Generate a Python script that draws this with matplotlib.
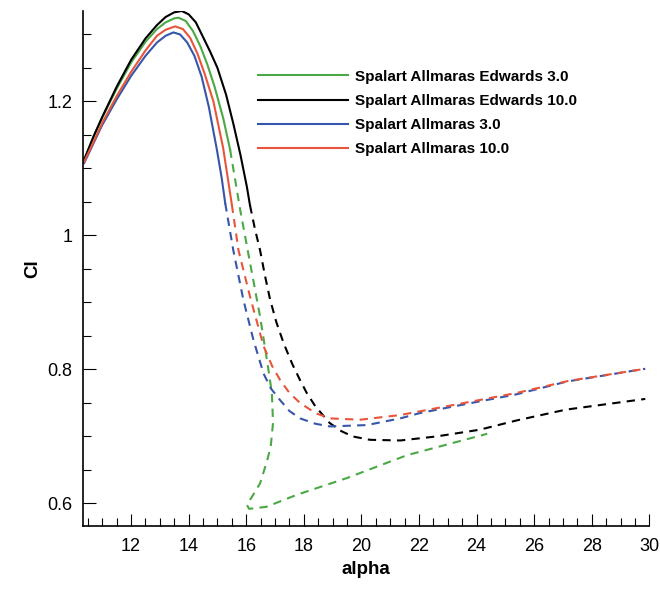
import matplotlib
matplotlib.use("Agg")
import matplotlib.pyplot as plt
from matplotlib.ticker import MultipleLocator, FormatStrFormatter

plt.rcParams['font.family'] = ['Liberation Sans', 'DejaVu Sans']

# Spalart Allmaras Edwards 3.0 (green)
sae3_alpha = [10.37, 10.7, 11.0, 11.5, 12.0, 12.5, 12.9, 13.2, 13.5, 13.65, 13.9, 14.15, 14.4,
              14.65, 14.9, 15.2, 15.44]
sae3_cl = [1.113, 1.148, 1.176, 1.219, 1.258, 1.289, 1.308, 1.318, 1.324, 1.325, 1.32, 1.305,
           1.283, 1.255, 1.222, 1.175, 1.128]
sae3_alpha_d = [15.44, 15.79, 16.15, 16.48, 16.72, 16.89, 16.93, 16.85, 16.72, 16.48, 16.2, 16.02,
                16.1, 16.7, 17.76, 19.5, 21.58, 24.37]
sae3_cl_d = [1.128, 1.038, 0.955, 0.879, 0.814, 0.765, 0.72, 0.685, 0.663, 0.63, 0.61, 0.598,
             0.592, 0.595, 0.613, 0.638, 0.672, 0.704]

# Spalart Allmaras Edwards 10.0 (black)
sae10_alpha = [10.37, 10.7, 11.0, 11.5, 12.0, 12.5, 12.9, 13.2, 13.5, 13.76, 14.0, 14.25, 14.5,
               14.75, 15.0, 15.3, 15.55, 15.8, 16.02, 16.13]
sae10_cl = [1.113, 1.148, 1.177, 1.222, 1.262, 1.294, 1.314, 1.326, 1.333, 1.335, 1.33, 1.318,
            1.296, 1.274, 1.25, 1.21, 1.167, 1.12, 1.073, 1.045]
sae10_alpha_d = [16.13, 16.3, 16.48, 16.65, 16.83, 17.05, 17.3, 17.6, 17.87, 18.1, 18.4, 18.9,
                 19.3, 19.7, 20.3, 21.35, 22.6, 24.1, 25.4, 27.1, 29.86]
sae10_cl_d = [1.045, 1.01, 0.978, 0.94, 0.904, 0.87, 0.839, 0.808, 0.784, 0.765, 0.745, 0.72,
              0.708, 0.70, 0.695, 0.694, 0.70, 0.71, 0.724, 0.74, 0.756]

# Spalart Allmaras 3.0 (blue)
sa3_alpha = [10.37, 10.7, 11.0, 11.5, 12.0, 12.5, 12.9, 13.2, 13.47, 13.7, 13.95, 14.2, 14.45,
             14.7, 14.98, 15.15, 15.27]
sa3_cl = [1.108, 1.138, 1.165, 1.203, 1.238, 1.268, 1.288, 1.298, 1.303, 1.3, 1.288, 1.268,
          1.237, 1.192, 1.128, 1.085, 1.048]
sa3_alpha_d = [15.27, 15.55, 15.9, 16.25, 16.6, 16.85, 17.18, 17.5, 17.87, 18.4, 18.9, 20.19,
               21.35, 22.04, 23.7, 25.4, 27.14, 29.86]
sa3_cl_d = [1.048, 0.978, 0.904, 0.844, 0.794, 0.772, 0.754, 0.738, 0.727, 0.719, 0.715, 0.717,
            0.727, 0.735, 0.749, 0.763, 0.782, 0.801]

# Spalart Allmaras 10.0 (red)
sa10_alpha = [10.37, 10.7, 11.0, 11.5, 12.0, 12.5, 12.9, 13.2, 13.53, 13.8, 14.05, 14.3, 14.55,
              14.86, 15.2, 15.5]
sa10_cl = [1.11, 1.14, 1.168, 1.208, 1.244, 1.276, 1.298, 1.307, 1.312, 1.308, 1.295, 1.272,
           1.242, 1.2, 1.13, 1.046]
sa10_alpha_d = [15.5, 15.73, 16.13, 16.6, 16.9, 17.18, 17.5, 17.87, 18.4, 18.9, 19.96, 21.35,
                23.2, 25.4, 27.2, 29.86]
sa10_cl_d = [1.046, 0.978, 0.909, 0.835, 0.805, 0.784, 0.765, 0.75, 0.735, 0.727, 0.725, 0.732,
             0.747, 0.765, 0.783, 0.801]

series = [
    ("Spalart Allmaras Edwards 3.0", "#4aa845", sae3_alpha, sae3_cl, sae3_alpha_d, sae3_cl_d),
    ("Spalart Allmaras Edwards 10.0", "black", sae10_alpha, sae10_cl, sae10_alpha_d, sae10_cl_d),
    ("Spalart Allmaras 3.0", "#3556aa", sa3_alpha, sa3_cl, sa3_alpha_d, sa3_cl_d),
    ("Spalart Allmaras 10.0", "#e8553a", sa10_alpha, sa10_cl, sa10_alpha_d, sa10_cl_d),
]

fig = plt.figure(figsize=(6.6, 5.9), dpi=100)
ax = fig.add_axes([0.1262, 0.1085, 0.8576, 0.8729])

for name, col, a, cl, ad, cld in series:
    ax.plot(a, cl, color=col, lw=1.5, label=name)
    ax.plot(ad, cld, color=col, lw=1.5, dashes=(4, 3))

ax.set_xlim(10.34, 30)
ax.set_ylim(0.5664, 1.335)
ax.xaxis.set_major_locator(MultipleLocator(2))
ax.xaxis.set_minor_locator(MultipleLocator(0.5))
ax.yaxis.set_major_locator(MultipleLocator(0.2))
ax.yaxis.set_minor_locator(MultipleLocator(0.05))
ax.yaxis.set_major_formatter(FormatStrFormatter('%g'))

for s in ['top', 'right']:
    ax.spines[s].set_visible(False)
for s in ['left', 'bottom']:
    ax.spines[s].set_linewidth(1.2)

ax.tick_params(which='both', direction='in', top=False, right=False, width=0.8, labelsize=13)
ax.tick_params(which='major', length=9)
ax.tick_params(which='minor', length=5.8)
ax.tick_params(axis='y', pad=8)
ax.tick_params(axis='x', pad=9)

ax.set_xlabel("alpha", fontsize=13.5, fontweight='bold', labelpad=4)
ax.set_ylabel("Cl", fontsize=13.5, fontweight='bold', labelpad=4)

ax.legend(loc='upper left', bbox_to_anchor=(0.3914, 0.882), bbox_transform=fig.transFigure,
          frameon=False, borderpad=0, borderaxespad=0, handlelength=5.9, handletextpad=0.44,
          labelspacing=0.67, prop={'weight': 'bold', 'size': 11})

fig.savefig("out.png", dpi=100)
